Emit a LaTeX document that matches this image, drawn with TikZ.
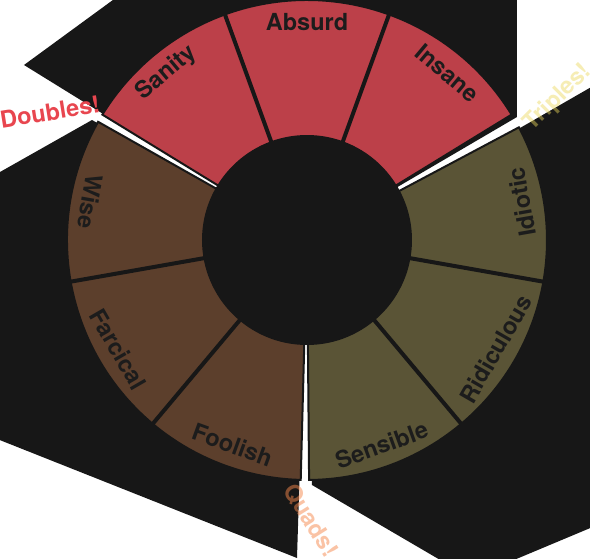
\documentclass[tikz,border=0pt]{standalone}
\usepackage{fontspec}
\setmainfont{TeX Gyre Heros}
\definecolor{ink}{HTML}{171717}
\definecolor{lblink}{HTML}{1C1C1C}
\definecolor{redw}{HTML}{BC4049}
\definecolor{olivew}{HTML}{5A5436}
\definecolor{brownw}{HTML}{5C3F2C}
\definecolor{dbl}{HTML}{E8464F}
\definecolor{tpl}{RGB}{235,215,90}
\definecolor{qds}{RGB}{245,135,75}

\begin{document}
\begin{tikzpicture}[x=1pt,y=1pt,
  lbl/.style={font=\fontsize{23.5}{24}\selectfont\bfseries,text=lblink},
  sep/.style={draw=ink,line width=4pt},
  slice/.style={draw=ink,line width=2pt}]
\useasboundingbox (-307,-318) rectangle (283,240);
\clip (-307,-318) rectangle (283,240);
% black backdrops
\fill[ink] (0,0)--(210,123)--(210,300)--(-112,300)--(-283,175)--cycle;
\fill[ink] (0,0)--(213,112)--(300,162)--(300,-281)--(164,-338)--(5,-245)--cycle;
\fill[ink] (0,0)--(-215,120)--(-330,55)--(-330,-191)--(-10,-318)--cycle;
% wheel
\filldraw[slice,fill=redw] (0,0)--(31.5:240) arc[start angle=31.5,end angle=148.5,radius=240]--cycle;
\filldraw[slice,fill=olivew] (0,0)--(-89.5:240) arc[start angle=-89.5,end angle=28,radius=240]--cycle;
\filldraw[slice,fill=brownw] (0,0)--(150.5:240) arc[start angle=150.5,end angle=268.5,radius=240]--cycle;
\draw[sep] (70:100)--(70:240);\draw[sep] (110:100)--(110:240);
\draw[sep] (-10:100)--(-10:240);\draw[sep] (-50:100)--(-50:240);
\draw[sep] (190:100)--(190:240);\draw[sep] (230:100)--(230:240);
\fill[ink] (0,0) circle (105);
% labels
\node[lbl,rotate=40] (sanity) at (130:218){Sanity};
\node[lbl] (absurd) at (90:218){Absurd};
\node[lbl,rotate=-40] (insane) at (50:218){Insane};
\node[lbl,rotate=100] (idiotic) at (10:218){Idiotic};
\node[lbl,rotate=60] (ridiculous) at (-30:218){Ridiculous};
\node[lbl,rotate=20] (sensible) at (-70:218){Sensible};
\node[lbl,rotate=260] (wise) at (170:220){Wise};
\node[lbl,rotate=300] (farcical) at (210:218){Farcical};
\node[lbl,rotate=340] (foolish) at (250:218){Foolish};
\node[lbl,text=dbl,rotate=9] (doubles) at (-257,128){Doubles!};
\node[lbl,text=tpl,text opacity=.45,rotate=45] (triples) at (251,142){Triples!};
\node[lbl,text=qds,text opacity=.5,rotate=-58] (quads) at (4,-280){Quads!};
\end{tikzpicture}
\end{document}
